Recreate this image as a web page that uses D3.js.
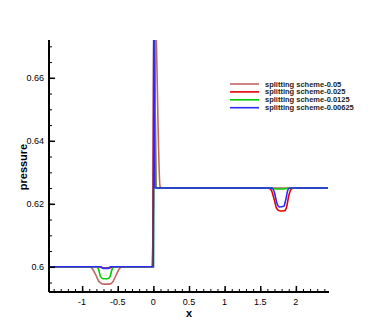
<!DOCTYPE html>
<html>
<head>
<meta charset="utf-8">
<script src="https://cdn.jsdelivr.net/npm/d3@7"></script>
<style>
  body { margin: 0; background: #fff; }
  svg { font-family: "Liberation Sans", Arial, sans-serif; }
</style>
</head>
<body>
<div class="svg-container"></div>
<script>
// series names and colours
var seriesNames = ["splitting scheme-0.05", "splitting scheme-0.025", "splitting scheme-0.0125", "splitting scheme-0.00625"];
var seriesColors = ["#c06666", "#e00000", "#00cc00", "#2a2aff"];

// x positions / pressure values
var x005 = [-1.47, -0.9, -0.86, -0.81, -0.76, -0.7, -0.62, -0.57, -0.52, -0.47, -0.43, -0.02, 0.0, 0.015, 0.094, 0.12, 2.45];
var p005 = [0.6, 0.6, 0.5995, 0.5975, 0.5952, 0.5945, 0.5945, 0.5952, 0.5975, 0.5996, 0.6, 0.6, 0.62, 0.69, 0.6255, 0.625, 0.625];

var x0025 = [-1.47, -0.75, -0.7, -0.62, -0.57, -0.01, -0.005, 0.01, 0.035, 0.05, 1.6, 1.65, 1.7, 1.73, 1.78, 1.84, 1.87, 1.9, 1.94, 1.98, 2.45];
var p0025 = [0.6, 0.6, 0.5996, 0.5996, 0.6, 0.6, 0.62, 0.69, 0.6255, 0.625, 0.625, 0.6245, 0.621, 0.6185, 0.6177, 0.6178, 0.619, 0.6225, 0.6248, 0.625, 0.625];

var x00125 = [-1.47, -0.8, -0.77, -0.74, -0.7, -0.64, -0.61, -0.58, -0.55, -0.0, 0.005, 0.012, 0.032, 0.045, 1.62, 1.72, 1.82, 1.93, 2.45];
var p00125 = [0.6, 0.6, 0.5992, 0.5968, 0.5962, 0.5962, 0.5968, 0.5992, 0.6, 0.6, 0.63, 0.7, 0.6255, 0.625, 0.625, 0.6247, 0.6247, 0.625, 0.625];

var x000625 = [-1.47, -0.74, -0.7, -0.64, -0.6, 0.0, 0.003, 0.006, 0.016, 0.03, 1.66, 1.7, 1.73, 1.77, 1.83, 1.86, 1.89, 1.92, 2.45];
var p000625 = [0.6, 0.6, 0.5995, 0.5995, 0.6, 0.6, 0.64, 0.7, 0.6255, 0.625, 0.625, 0.6235, 0.6205, 0.619, 0.6192, 0.6215, 0.6245, 0.625, 0.625];

var allX = [x005, x0025, x00125, x000625];
var allP = [p005, p0025, p00125, p000625];

var xMajor = [-1, -0.5, 0, 0.5, 1, 1.5, 2];
var yMajor = [0.6, 0.62, 0.64, 0.66];

var width = 374, height = 332;
var mLeft = 49, mRight = 329, mTop = 40, mBottom = 292;

var svg = d3.select(".svg-container").append("svg")
  .attr("width", width)
  .attr("height", height);

var x = d3.scaleLinear().domain([-1.465, 2.465]).range([mLeft, mRight]);
var y = d3.scaleLinear().domain([0.592, 0.672]).range([mBottom, mTop]);

svg.append("clipPath").attr("id", "clip")
  .append("rect")
  .attr("x", mLeft).attr("y", mTop)
  .attr("width", mRight - mLeft).attr("height", mBottom - mTop);

// lines
var line = d3.line()
  .x(function(d) { return x(d[0]); })
  .y(function(d) { return y(d[1]); })
  .curve(d3.curveMonotoneX);

var plot = svg.append("g").attr("clip-path", "url(#clip)");
allX.forEach(function(xs, i) {
  var pts = xs.map(function(v, j) { return [v, allP[i][j]]; });
  plot.append("path")
    .datum(pts)
    .attr("d", line)
    .attr("fill", "none")
    .attr("stroke", seriesColors[i])
    .attr("stroke-width", 1.6);
});

// x axis
var xMinor = d3.range(-14, 25).map(function(k) { return k / 10; });
svg.append("g")
  .attr("transform", "translate(0," + mBottom + ")")
  .call(d3.axisTop(x).tickValues(xMinor).tickSize(3).tickFormat(""))
  .call(function(g) { g.select(".domain").remove(); });
var xa = svg.append("g")
  .attr("transform", "translate(0," + mBottom + ")")
  .call(d3.axisTop(x).tickValues(xMajor).tickSize(6).tickFormat(""));
xa.select(".domain").attr("stroke-width", 2).attr("d", "M" + mLeft + ",0H" + mRight);
xa.selectAll(".tick line").attr("stroke-width", 1.5);
svg.append("g").selectAll("text")
  .data(xMajor)
  .enter().append("text")
  .attr("x", function(d) { return x(d); })
  .attr("y", mBottom + 13)
  .attr("text-anchor", "middle")
  .style("font-size", "9px")
  .text(function(d) { return d; });

// y axis
var yMinor = d3.range(119, 135).map(function(k) { return k * 0.005; });
svg.append("g")
  .attr("transform", "translate(" + mLeft + ",0)")
  .call(d3.axisRight(y).tickValues(yMinor).tickSize(3).tickFormat(""))
  .call(function(g) { g.select(".domain").remove(); });
var ya = svg.append("g")
  .attr("transform", "translate(" + mLeft + ",0)")
  .call(d3.axisRight(y).tickValues(yMajor).tickSize(6).tickFormat(""));
ya.select(".domain").attr("stroke-width", 2).attr("d", "M0," + mTop + "V" + mBottom);
ya.selectAll(".tick line").attr("stroke-width", 1.5);
svg.append("g").selectAll("text")
  .data(yMajor)
  .enter().append("text")
  .attr("x", mLeft - 5)
  .attr("y", function(d) { return y(d) + 3; })
  .attr("text-anchor", "end")
  .style("font-size", "9px")
  .text(function(d) { return d; });

// axis labels
svg.append("text")
  .attr("x", x(0.5))
  .attr("y", 317)
  .attr("text-anchor", "middle")
  .style("font-size", "11px")
  .style("font-weight", "bold")
  .text("x");

svg.append("text")
  .attr("transform", "translate(27,167) rotate(-90)")
  .attr("text-anchor", "middle")
  .style("font-size", "11px")
  .style("font-weight", "bold")
  .text("pressure");

// legend
var legend = svg.append("g");
seriesNames.forEach(function(name, i) {
  var ly = 84 + i * 7.9;
  legend.append("line")
    .attr("x1", 230).attr("x2", 259)
    .attr("y1", ly).attr("y2", ly)
    .attr("stroke", seriesColors[i])
    .attr("stroke-width", 1.6);
  legend.append("text")
    .attr("x", 265)
    .attr("y", ly + 2.5)
    .style("font-size", "7.5px")
    .style("font-weight", "bold")
    .attr("fill", "#222")
    .text(name);
});
</script>
</body>
</html>
